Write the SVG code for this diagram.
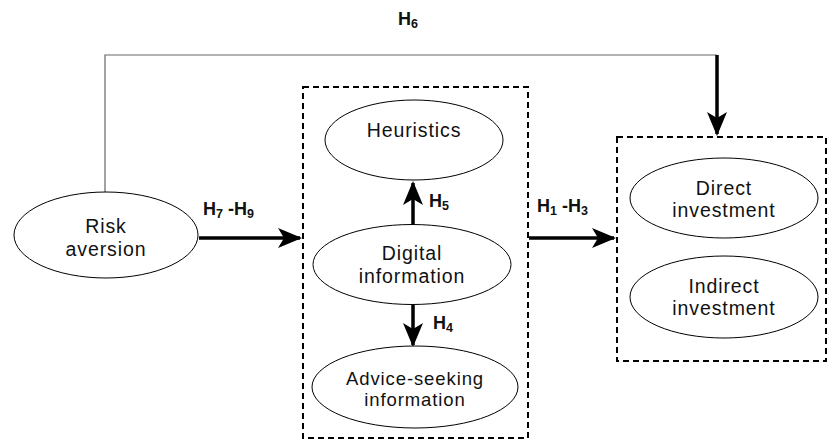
<svg xmlns="http://www.w3.org/2000/svg" width="832" height="442" viewBox="0 0 832 442">
<style>
.node ellipse{fill:#fff;stroke:#000;stroke-width:1}
.t{font-family:"Liberation Sans",Arial,sans-serif;font-size:19.5px;letter-spacing:0.9px;text-anchor:middle;fill:#111}
.lab{font-family:"Liberation Sans",Arial,sans-serif;font-size:18px;font-weight:bold;fill:#111}
.sub{font-size:12.5px}
.box{fill:none;stroke:#000;stroke-width:2;stroke-dasharray:6 4}
.thick{stroke:#000;stroke-width:3.5;fill:none}
.thin{stroke:#666;stroke-width:1.2;fill:none}
</style>
<defs>
<marker id="ahb" viewBox="0 0 24 20" markerWidth="24" markerHeight="20" refX="22" refY="10" orient="auto" markerUnits="userSpaceOnUse">
<path d="M0,0 L24,10 L0,20 L6,10 Z" fill="#000"/>
</marker>
</defs>
<rect width="832" height="442" fill="#fff"/>
<g id="group-mediators"><rect class="box" x="303" y="87" width="225" height="351"/></g>
<g id="group-outcomes"><rect class="box" x="617" y="137" width="209" height="224"/></g>
<g id="connectors">
<polyline class="thin" points="105,192 105,55 717,55"/>
<line class="thick" x1="717" y1="55" x2="717" y2="134" marker-end="url(#ahb)"/>
<line class="thick" x1="199" y1="238" x2="300" y2="238" marker-end="url(#ahb)"/>
<line class="thick" x1="529" y1="238" x2="614" y2="238" marker-end="url(#ahb)"/>
<line class="thick" x1="413" y1="224" x2="413" y2="183" marker-end="url(#ahb)"/>
<line class="thick" x1="413" y1="305" x2="413" y2="345" marker-end="url(#ahb)"/>
<text class="lab" x="398" y="25">H<tspan class="sub" dy="3">6</tspan></text>
<text class="lab" x="203" y="215">H<tspan class="sub" dy="3">7</tspan><tspan dy="-3"> -H</tspan><tspan class="sub" dy="3">9</tspan></text>
<text class="lab" x="537" y="212">H<tspan class="sub" dy="3">1</tspan><tspan dy="-3"> -H</tspan><tspan class="sub" dy="3">3</tspan></text>
<text class="lab" x="429" y="207">H<tspan class="sub" dy="3">5</tspan></text>
<text class="lab" x="433" y="329">H<tspan class="sub" dy="3">4</tspan></text>
</g>
<g id="risk-aversion" class="node"><ellipse cx="106" cy="235" rx="92" ry="43"/><text class="t" x="106" y="233">Risk</text><text class="t" x="106" y="256">aversion</text></g>
<g id="heuristics" class="node"><ellipse cx="414" cy="140" rx="89" ry="40"/><text class="t" x="414" y="137">Heuristics</text></g>
<g id="digital-information" class="node"><ellipse cx="412" cy="264.5" rx="99" ry="40"/><text class="t" x="412" y="260">Digital</text><text class="t" x="412" y="283">information</text></g>
<g id="advice-seeking" class="node"><ellipse cx="415" cy="387" rx="103" ry="41"/><text class="t" x="415" y="385" style="font-size:18.5px">Advice-seeking</text><text class="t" x="415" y="406" style="font-size:18.5px">information</text></g>
<g id="direct-investment" class="node"><ellipse cx="724" cy="198" rx="94" ry="40"/><text class="t" x="724" y="195">Direct</text><text class="t" x="724" y="217">investment</text></g>
<g id="indirect-investment" class="node"><ellipse cx="724" cy="297" rx="94" ry="41"/><text class="t" x="724" y="293">Indirect</text><text class="t" x="724" y="315">investment</text></g>
</svg>
